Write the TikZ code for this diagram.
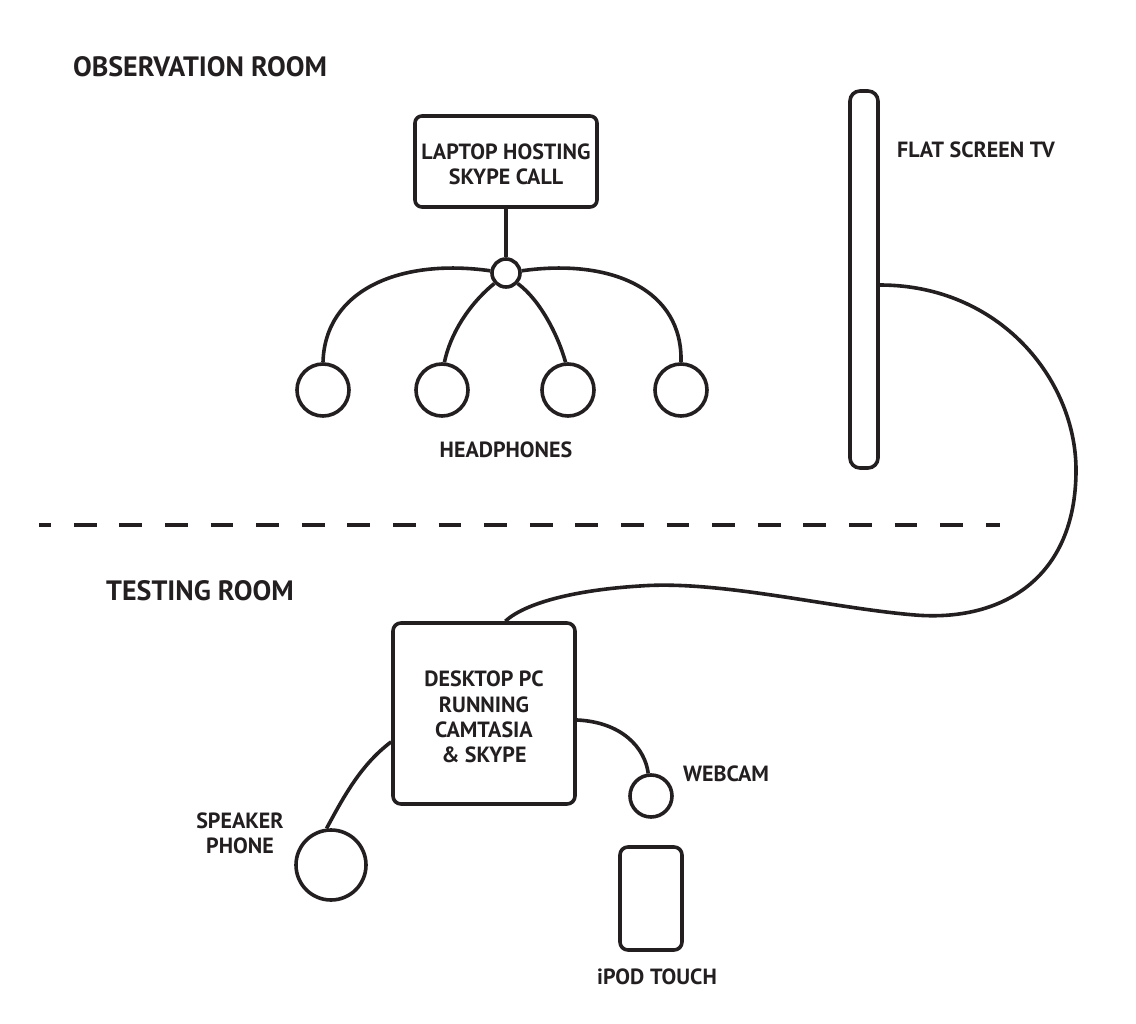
\documentclass[tikz,border=0pt]{standalone}
\usepackage{fontspec}
\setmainfont{PT Sans}
\definecolor{ink}{RGB}{35,31,32}
\begin{document}
\begin{tikzpicture}[x=1pt,y=-1pt,
  lbl/.style={font=\bfseries\fontsize{22}{25.3}\selectfont, align=center, text=ink, inner sep=0pt},
  ttl/.style={font=\bfseries\fontsize{28}{30}\selectfont, text=ink, inner sep=0pt},
  boxnode/.style={draw=ink, line width=3.6pt, rounded corners=7pt, inner sep=0pt},
  ring/.style={draw=ink, line width=3.6pt, circle, inner sep=0pt},
  wire/.style={line width=3.6pt, draw=ink}]
\useasboundingbox (0,0) rectangle (1136,1024);
% titles
\node[ttl] (obs) at (200,67) {OBSERVATION ROOM};
\node[ttl] (test) at (200,591) {TESTING ROOM};
% laptop
\node[boxnode, minimum width=182pt, minimum height=91pt, lbl, text height=45.7pt, text depth=0pt] (laptop) at (506,161.5) {LAPTOP HOSTING\\SKYPE CALL};
\node[ring, minimum size=28pt] (hub) at (506,273) {};
\draw[wire] (laptop.south) -- (hub.north);
% headphones
\node[ring, minimum size=52pt] (h1) at (323,390) {};
\node[ring, minimum size=52pt] (h2) at (442,390) {};
\node[ring, minimum size=52pt] (h3) at (568,390) {};
\node[ring, minimum size=52pt] (h4) at (681,390) {};
\draw[wire] (hub.172) .. controls (400,258) and (325,290) .. (h1.north);
\draw[wire] (hub.222) .. controls (468,305) and (450,335) .. (h2.85);
\draw[wire] (hub.-42) .. controls (540,300) and (558,335) .. (h3.95);
\draw[wire] (hub.8) .. controls (612,258) and (683,290) .. (h4.north);
\node[lbl] (hp) at (506,450) {HEADPHONES};
% TV
\node[boxnode, rounded corners=10pt, minimum width=28pt, minimum height=377pt] (tv) at (864,279.5) {};
\node[lbl, anchor=west] (tvl) at (897,150) {FLAT SCREEN TV};
% divider
\coordinate (dl) at (39,525);
\coordinate (dr) at (1000,525);
\draw[wire, dash pattern=on 22.8pt off 22.8pt, dash phase=10.8pt] (dl) -- (dr);
% desktop
\node[boxnode, rounded corners=8pt, minimum width=182pt, minimum height=181pt, lbl, text height=98.3pt, text depth=0pt] (pc) at (484,713.5) {DESKTOP PC\\RUNNING\\CAMTASIA\\\& SKYPE};
\draw[wire] ([yshift=-5.5pt]tv.east) .. controls (1000,285) and (1076,380) .. (1076,470)
  .. controls (1076,580) and (1000,622) .. (915,615)
  .. controls (830,608) and (720,580) .. (640,586)
  .. controls (575,590) and (525,603) .. (pc.77);
% speaker phone
\node[ring, minimum size=70pt] (sp) at (331,865) {};
\draw[wire] (pc.197) .. controls (360,765) and (342,800) .. (sp.97);
\node[lbl] (spl) at (240,833.5) {SPEAKER\\PHONE};
% webcam
\node[ring, minimum size=42pt] (wc) at (651,796) {};
\draw[wire] (pc.-4) .. controls (622,722) and (645,748) .. (wc.97);
\node[lbl, anchor=west] (wcl) at (683,774) {WEBCAM};
% ipod
\node[boxnode, rounded corners=8pt, minimum width=62pt, minimum height=103pt] (ipod) at (651,898.5) {};
\node[lbl] (ipl) at (657,977) {iPOD TOUCH};
\end{tikzpicture}
\end{document}
